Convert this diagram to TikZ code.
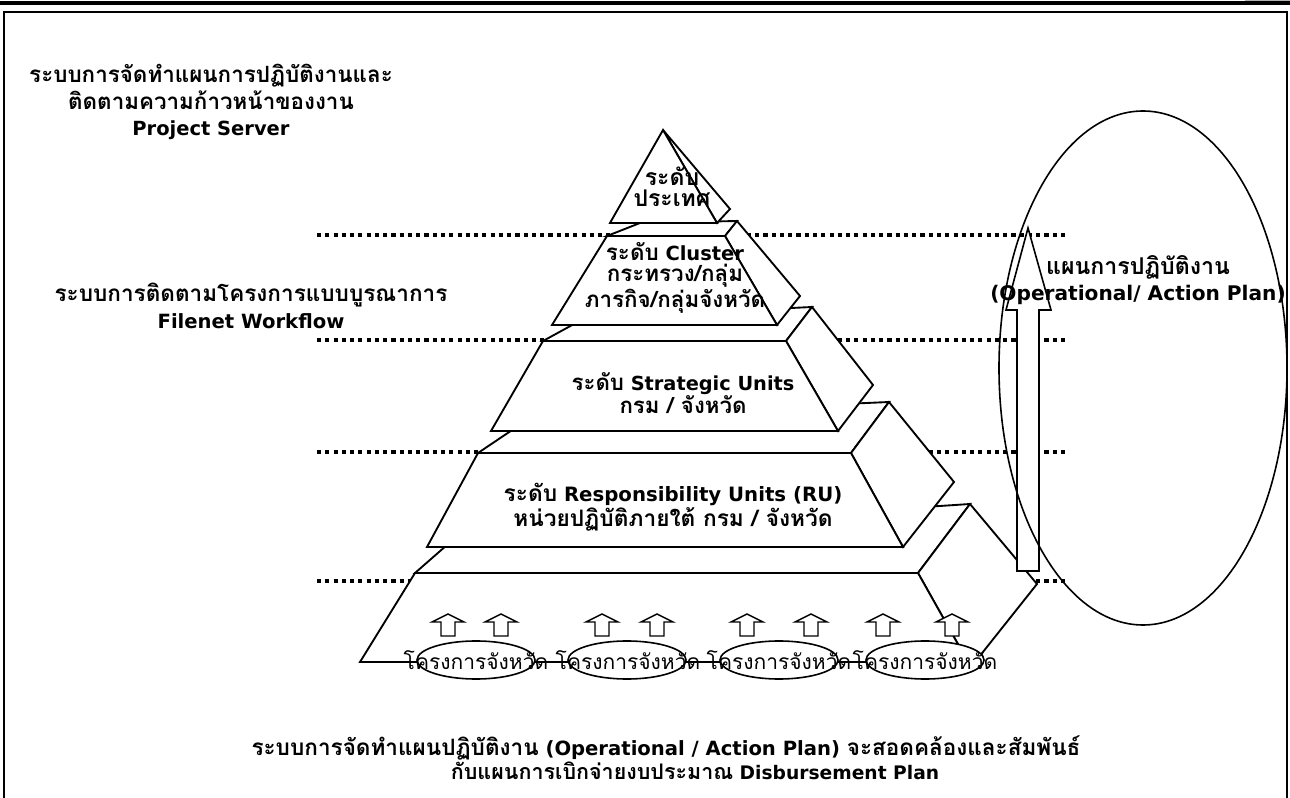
\documentclass[tikz,border=0pt]{standalone}
\usepackage{fontspec}
\usetikzlibrary{shapes.geometric}
\setmainfont{DejaVu Sans}
\newfontfamily\thf[Script=Thai,Scale=1.15]{Loma}
\newcommand{\tha}[1]{{\thf #1}}
\begin{document}
\begin{tikzpicture}[x=0.75pt,y=-0.75pt,
  face/.style={draw, fill=white, line width=1.4pt, line join=miter},
  dotl/.style={line width=3pt, dash pattern=on 3.1pt off 3.1pt},
  lbl/.style={align=center, inner sep=0pt},
  upar/.style={draw, fill=white, line width=1.1pt, line join=miter},
  oval/.style={draw, fill=white, line width=1.2pt}]
\useasboundingbox (0,0) rectangle (1290,798);
% header bar and frame
\fill (0,1) rectangle (1290,5);
\fill[gray!60] (1245,0) rectangle (1290,1.5);
\draw[line width=1.5pt] (4,800) -- (4,12) -- (1287,12) -- (1287,800);
% dotted level lines
\foreach \yy in {235,340,452,581}
  \draw[dotl] (317,\yy) -- (1067,\yy);
% base tier
\draw[face] (415,573) -- (455,538) -- (970,504) -- (918,573) -- cycle;
\draw[face] (918,573) -- (970,504) -- (1037,584) -- (975,662) -- (968,662) -- cycle;
\draw[face] (415,573) -- (918,573) -- (968,662) -- (360,662) -- cycle;
% RU tier
\draw[face] (478,453) -- (530,418) -- (889,402) -- (851,453) -- cycle;
\draw[face] (851,453) -- (889,402) -- (954,482) -- (903,547) -- cycle;
\draw[face] (478,453) -- (851,453) -- (903,547) -- (427,547) -- cycle;
% Strategic tier
\draw[face] (543,341) -- (585,318) -- (812,307) -- (786,341) -- cycle;
\draw[face] (786,341) -- (812,307) -- (873,385) -- (838,431) -- cycle;
\draw[face] (543,341) -- (786,341) -- (838,431) -- (491,431) -- cycle;
% Cluster tier
\draw[face] (607,236) -- (640,223) -- (737,221) -- (725,236) -- cycle;
\draw[face] (725,236) -- (737,221) -- (800,296) -- (777,325) -- cycle;
\draw[face] (607,236) -- (725,236) -- (777,325) -- (552,325) -- cycle;
% top
\draw[face] (663,130) -- (730,209) -- (717,223) -- cycle;
\draw[face] (663,130) -- (717,223) -- (610,223) -- cycle;
% small up arrows
\foreach \xx in {448,501,602,657,747,811,883,952}
  \draw[upar] (\xx,614) -- (\xx+16,622) -- (\xx+7,622) -- (\xx+7,636) -- (\xx-7,636) -- (\xx-7,622) -- (\xx-16,622) -- cycle;
% ovals
\foreach \xx/\nm in {476/o1,627/o2,779/o3,925/o4}
  \node[oval, ellipse, minimum width=88.5pt, minimum height=28.5pt, inner sep=0pt] (\nm) at (\xx,660) {};
\foreach \xx/\nm in {476/p1,628/p2,779/p3,925/p4}
  \node[lbl, font=\fontsize{13.7}{16}\selectfont] (\nm) at (\xx,660) {\tha{โครงการจังหวัด}};
% big arrow
\draw[face, line width=1.2pt] (1028,228) -- (1051,310) -- (1039,310) -- (1039,571) -- (1017,571) -- (1017,310) -- (1006,310) -- cycle;
% ellipse
\draw[line width=1.2pt] (1143,368) ellipse [x radius=144, y radius=257];
% labels
\node[lbl, font=\bfseries\fontsize{14.6}{19.9}\selectfont] (t1) at (211,102) {\tha{ระบบการจัดทำแผนการปฏิบัติงานและ}\\\tha{ติดตามความก้าวหน้าของงาน}\\Project Server};
\node[lbl, font=\bfseries\fontsize{14.7}{20}\selectfont] (t2) at (251,306) {\tha{ระบบการติดตามโครงการแบบบูรณาการ}\\Filenet Workflow};
\node[lbl, font=\bfseries\fontsize{15}{15.8}\selectfont] (t3) at (672,187) {\tha{ระดับ}\\\tha{ประเทศ}};
\node[lbl, font=\bfseries\fontsize{14.6}{15.6}\selectfont] (t4) at (675,278) {\tha{ระดับ} Cluster\\\tha{กระทรวง/กลุ่ม}\\\tha{ภารกิจ/กลุ่มจังหวัด}};
\node[lbl, font=\bfseries\fontsize{14.5}{17.2}\selectfont] (t5) at (683,393) {\tha{ระดับ} Strategic Units\\\tha{กรม / จังหวัด}};
\node[lbl, font=\bfseries\fontsize{14.8}{15.5}\selectfont] (t6) at (673,507) {\tha{ระดับ} Responsibility Units (RU)\\\tha{หน่วยปฏิบัติภายใต้ กรม / จังหวัด}};
\node[lbl, font=\bfseries\fontsize{15.1}{20}\selectfont] (t7) at (1138,280) {\tha{แผนการปฏิบัติงาน}\\(Operational/ Action Plan)};
\node[lbl, font=\bfseries\fontsize{14.7}{16.5}\selectfont] (t8) at (666,748) {\tha{ระบบการจัดทำแผนปฏิบัติงาน} (Operational / Action Plan) \tha{จะสอดคล้องและสัมพันธ์}};
\node[lbl, font=\bfseries\fontsize{14}{16.5}\selectfont] (t9) at (695,771) {\tha{กับแผนการเบิกจ่ายงบประมาณ} Disbursement Plan};
\end{tikzpicture}
\end{document}
